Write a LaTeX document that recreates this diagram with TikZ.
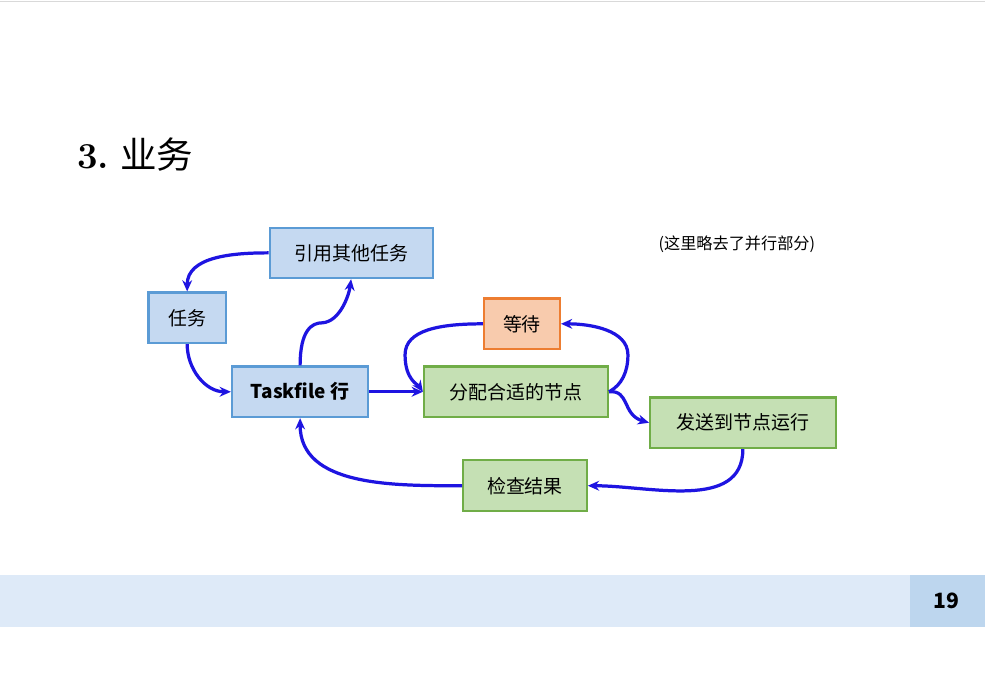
\documentclass[tikz,border=0pt]{standalone}
\usepackage{fontspec}
\setmainfont{Noto Sans CJK SC}
\newfontfamily\lmr{Latin Modern Roman}
\usetikzlibrary{arrows.meta}
\definecolor{bluefill}{RGB}{197,217,241}
\definecolor{blueline}{RGB}{91,155,213}
\definecolor{greenfill}{RGB}{197,224,180}
\definecolor{greenline}{RGB}{112,173,71}
\definecolor{orangefill}{RGB}{248,203,173}
\definecolor{orangeline}{RGB}{237,125,49}
\definecolor{flowblue}{RGB}{30,20,225}
\definecolor{barblue}{RGB}{222,234,248}
\definecolor{numblue}{RGB}{189,214,238}
\tikzset{
	box/.style={draw, line width=1.5pt, minimum height=36pt, inner xsep=0pt, font=\fontsize{13.5}{15}\selectfont},
	task/.style={box, fill=bluefill, draw=blueline},
	stage/.style={box, fill=greenfill, draw=greenline},
	hold/.style={box, fill=orangefill, draw=orangeline},
	flow/.style={draw=flowblue, line width=2.3pt, -{Stealth[length=8pt,width=7pt]}}
}
\begin{document}
\begin{tikzpicture}[x=0.025cm, y=-0.025cm]

	% slide background
	\fill[white] (0,0) rectangle (985,698);
	\draw[black!15] (0,1) -- (985,1);
	\fill[barblue] (0,575) rectangle (910,627);
	\fill[numblue] (910,575) rectangle (985,627);
	\node[font=\bfseries\fontsize{15}{18}\selectfont] (page) at (947,601) {19};
	\node[anchor=west, font=\fontsize{26}{30}\selectfont] (title) at (72,155) {{\lmr\bfseries 3.} 业务};
	\node[font=\fontsize{11.5}{13}\selectfont] (note) at (737,244) {(这里略去了并行部分)};

	% nodes
	\node[task, minimum width=116pt] (ref) at (351,253) {引用其他任务};
	\node[task, minimum width=55pt] (task) at (187,318) {任务};
	\node[task, minimum width=97pt] (line) at (300,392) {\textbf{Taskfile 行}};
	\node[hold, minimum width=54pt] (wait) at (522,324) {等待};
	\node[stage, minimum width=131pt] (assign) at (516,392) {分配合适的节点};
	\node[stage, minimum width=132pt] (send) at (743,423) {发送到节点运行};
	\node[stage, minimum width=88pt] (check) at (525,486) {检查结果};

	% edges
	\draw[flow] (ref.west) to[out=180, in=90] (task.north);
	\draw[flow] (task.south) to[out=-90, in=180] (line.west);
	\draw[flow] (line.north) .. controls (300,330) and (312,323) .. (322,323) .. controls (340,322) and (349,295) .. (ref.south);
	\draw[flow] (line.east) -- (assign.west);
	\draw[flow] (wait.west) .. controls (440,324) and (405,330) .. (405,355) .. controls (405,380) and (418,385) .. (assign.west);
	\draw[flow] (assign.east) .. controls (622,385) and (628,372) .. (628,355) .. controls (628,330) and (590,324) .. (wait.east);
	\draw[flow] (assign.east) .. controls (630,390) and (622,415) .. (send.west);
	\draw[flow] (send.south) to[out=-90, in=0] (check.east);
	\draw[flow] (check.west) to[out=180, in=-90] (line.south);

\end{tikzpicture}
\end{document}
